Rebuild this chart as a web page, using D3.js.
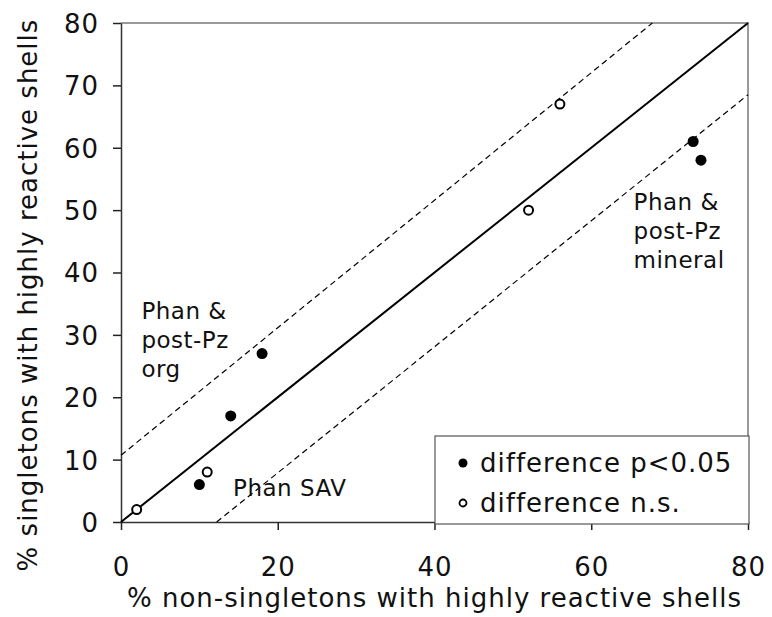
<!DOCTYPE html>
<html lang="en">
<head>
<meta charset="utf-8">
<script src="https://d3js.org/d3.v7.min.js"></script>
<style>
    body { margin: 0; background: #fff; }
    text { font-family: "DejaVu Sans", Verdana, sans-serif; fill: #111; }
</style>
</head>
<body>
<div id="chart"></div>
<script>
    // points: % non-singletons (x) vs % singletons (y)
    const sigX = [10, 14, 18, 73, 74];
    const sigY = [6, 17, 27, 61, 58];
    const nsX = [2, 11, 52, 56];
    const nsY = [2, 8, 50, 67];

    // reference lines, as [x, y] end points
    const oneToOne = [[0, 0], [80, 80]];
    const upperBand = [[0, 10.7], [67.8, 80]];
    const lowerBand = [[12.2, 0], [80, 68.5]];

    const xTicks = [0, 20, 40, 60, 80];
    const yTicks = [0, 10, 20, 30, 40, 50, 60, 70, 80];

    const notes = [
        {x: 2.6, y: 32.5, lines: ["Phan &", "post-Pz", "org"]},
        {x: 14.3, y: 4.2, lines: ["Phan SAV"]},
        {x: 65.4, y: 50.0, lines: ["Phan &", "post-Pz", "mineral"]}
    ];
    const legendItems = [
        {label: "difference p<0.05", filled: true},
        {label: "difference n.s.", filled: false}
    ];

    let W = 772, H = 617;
    let margin = {top: 23, right: 24, bottom: 95, left: 121};

    let svg = d3.select("#chart").append("svg")
        .attr("width", W)
        .attr("height", H);

    let x = d3.scaleLinear().domain([0, 80]).range([margin.left, W - margin.right]);
    let y = d3.scaleLinear().domain([0, 80]).range([H - margin.bottom, margin.top]);

    // frame top / right
    svg.append("path")
        .attr("d", "M" + x(0) + "," + y(80) + "H" + x(80) + "V" + y(0))
        .attr("fill", "none")
        .attr("stroke", "#999")
        .attr("stroke-width", 2);

    let xAxis = svg.append("g")
        .attr("transform", "translate(0," + y(0) + ")")
        .call(d3.axisBottom(x).tickValues(xTicks).tickSize(8).tickSizeOuter(0).tickPadding(28));
    let yAxis = svg.append("g")
        .attr("transform", "translate(" + x(0) + ",0)")
        .call(d3.axisLeft(y).tickValues(yTicks).tickSize(8).tickSizeOuter(0).tickPadding(14));

    svg.selectAll(".domain").attr("stroke", "#333").attr("stroke-width", 1.5);
    svg.selectAll(".tick line").attr("stroke", "#222").attr("stroke-width", 1.5);
    svg.selectAll(".tick text")
        .style("font-family", "DejaVu Sans, Verdana, sans-serif")
        .style("font-size", "26px")
        .style("letter-spacing", "1px")
        .attr("fill", "#111");
    yAxis.selectAll(".tick text").attr("dy", "0.36em");

    // lines
    let line = d3.line().x(d => x(d[0])).y(d => y(d[1]));
    svg.append("path").datum(oneToOne)
        .attr("d", line).attr("fill", "none")
        .attr("stroke", "#000").attr("stroke-width", 2);
    [upperBand, lowerBand].forEach(function(b) {
        svg.append("path").datum(b)
            .attr("d", line).attr("fill", "none")
            .attr("stroke", "#000").attr("stroke-width", 1.2)
            .attr("stroke-dasharray", "6,4");
    });

    // points
    svg.selectAll(".sig").data(sigX).enter().append("circle")
        .attr("class", "sig")
        .attr("cx", d => x(d))
        .attr("cy", (d, i) => y(sigY[i]))
        .attr("r", 5.5)
        .attr("fill", "#000");
    svg.selectAll(".ns").data(nsX).enter().append("circle")
        .attr("class", "ns")
        .attr("cx", d => x(d))
        .attr("cy", (d, i) => y(nsY[i]))
        .attr("r", 4.5)
        .attr("fill", "#fff")
        .attr("stroke", "#000")
        .attr("stroke-width", 2);

    // annotations
    notes.forEach(function(n) {
        let t = svg.append("text")
            .attr("x", x(n.x))
            .attr("y", y(n.y))
            .style("font-size", "23px")
            .style("letter-spacing", "0.5px")
            .attr("fill", "#222");
        n.lines.forEach(function(s, i) {
            t.append("tspan").attr("x", x(n.x)).attr("dy", i == 0 ? 0 : 29).text(s);
        });
    });

    // legend
    let lg = svg.append("g").attr("transform", "translate(435,436)");
    lg.append("rect")
        .attr("width", 314).attr("height", 88)
        .attr("fill", "#fff").attr("stroke", "#555").attr("stroke-width", 1.2);
    legendItems.forEach(function(d, i) {
        let row = lg.append("g").attr("transform", "translate(0," + (27 + i * 40) + ")");
        row.append("circle")
            .attr("cx", 28).attr("cy", 0)
            .attr("r", d.filled ? 4.5 : 3.5)
            .attr("fill", d.filled ? "#000" : "#fff")
            .attr("stroke", "#000").attr("stroke-width", d.filled ? 0 : 1.8);
        row.append("text")
            .attr("x", 45).attr("y", 0).attr("dy", "0.36em")
            .style("font-size", "26px")
            .style("letter-spacing", "1px")
            .text(d.label);
    });

    // axis titles
    svg.append("text")
        .attr("x", (x(0) + x(80)) / 2)
        .attr("y", 607)
        .attr("text-anchor", "middle")
        .style("font-size", "26px")
        .style("letter-spacing", "1px")
        .text("% non-singletons with highly reactive shells");
    svg.append("text")
        .attr("transform", "translate(37,295) rotate(-90)")
        .attr("text-anchor", "middle")
        .style("font-size", "26px")
        .style("letter-spacing", "1px")
        .text("% singletons with highly reactive shells");
</script>
</body>
</html>
